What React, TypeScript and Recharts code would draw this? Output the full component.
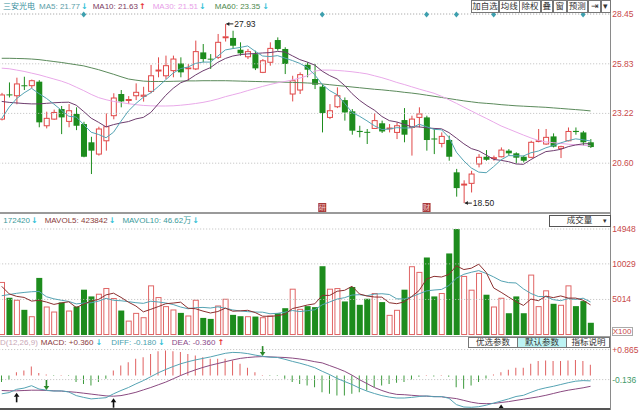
import React from 'react'
import {
  Bar,
  Cell,
  ComposedChart,
  Line,
  ReferenceDot,
  ReferenceLine,
  XAxis,
  YAxis,
} from 'recharts'

// one entry per trading day, first one is the half-cut candle at the left edge
const opens = [
  22.92, 24.22, 24.15, 24.7, 24.68, 24.89, 22.57, 22.92, 23.45, 22.8,
  23.19, 22.66, 21.7, 21.08, 21.78, 23.1, 24.24, 23.9, 24.15, 24.12,
  24.38, 25.45, 25.2, 25.47, 25.85, 25.57, 25.56, 26.43, 26.1, 26.17,
  27.2, 27.19, 26.57, 26.2, 26.34, 25.38, 25.91, 27.08, 26.61, 24.24,
  24.45, 25.78, 25.03, 24.63, 23.01, 23.57, 23.92, 23.33, 22.3, 22.25,
  22.43, 22.7, 22.41, 22.22, 22.87, 22.48, 23.01, 23.01, 21.9, 21.64,
  21.82, 20.12, 19.45, 19.54, 20.56, 20.94, 20.85, 20.94, 21.26, 21.12,
  20.94, 20.91, 21.74, 21.61, 22.01, 21.38, 21.78, 22.3, 22.22, 21.7,
]
const closes = [
  24.19, 24.17, 24.77, 24.65, 24.94, 22.75, 22.96, 23.27, 23.01, 23.36,
  22.57, 20.94, 21.26, 22.4, 22.52, 24.03, 23.85, 23.95, 24.33, 24.18,
  25.2, 25.5, 25.73, 26.08, 25.38, 25.61, 26.47, 26.08, 26.06, 26.96,
  27.25, 26.78, 26.38, 26.47, 25.59, 25.99, 26.64, 26.61, 25.82, 24.94,
  25.26, 25.52, 24.73, 23.24, 23.36, 24.15, 23.27, 22.31, 22.24, 22.2,
  22.84, 22.27, 22.45, 22.57, 22.1, 22.92, 23.19, 21.82, 21.85, 22.01,
  20.94, 19.29, 19.5, 20.03, 20.91, 20.78, 20.89, 21.29, 21.12, 20.89,
  20.73, 21.7, 21.78, 21.96, 21.47, 21.47, 22.27, 22.24, 21.7, 21.45,
]
const highs = [
  24.3, 24.85, 25.1, 25.15, 25.0, 24.97, 23.31, 23.42, 23.61, 23.71,
  23.54, 22.78, 21.99, 22.52, 23.22, 24.28, 24.45, 24.13, 24.8, 24.62,
  25.77, 26.17, 26.26, 26.26, 26.17, 25.82, 27.05, 26.87, 26.34, 27.4,
  27.93, 27.57, 26.96, 26.61, 26.52, 26.08, 26.96, 27.22, 26.7, 25.2,
  25.38, 25.91, 25.82, 24.77, 23.71, 24.59, 24.06, 23.45, 22.57, 22.4,
  23.24, 22.84, 22.66, 22.75, 23.5, 23.1, 23.54, 23.1, 22.4, 22.22,
  22.05, 20.3, 19.7, 20.2, 21.08, 21.29, 21.0, 21.43, 21.34, 21.17,
  21.0, 21.78, 22.4, 22.4, 22.17, 21.52, 22.48, 22.48, 22.3, 21.87,
]
const lows = [
  22.85, 24.06, 23.7, 24.45, 24.54, 22.49, 22.43, 22.88, 22.13, 22.49,
  22.34, 20.91, 20.03, 21.0, 21.26, 22.91, 23.54, 23.71, 23.92, 23.84,
  24.28, 25.12, 25.03, 25.12, 25.12, 24.94, 25.5, 25.91, 25.56, 26.08,
  27.0, 26.61, 26.26, 26.08, 25.5, 25.34, 25.73, 26.52, 25.29, 23.85,
  24.24, 25.12, 24.5, 22.22, 22.92, 23.5, 22.84, 22.1, 21.96, 21.61,
  22.4, 22.19, 22.22, 21.87, 21.7, 21.0, 22.48, 21.26, 21.08, 21.43,
  20.73, 18.84, 18.5, 19.06, 20.38, 20.73, 20.73, 20.91, 21.0, 20.59,
  20.64, 20.87, 21.7, 21.57, 21.43, 20.87, 21.75, 22.1, 21.52, 21.4,
]
// volume in lots of 100
const volumes = [
  7480, 5250, 4970, 3550, 2650, 8050, 4020, 3310, 4590, 3450,
  4020, 6390, 5440, 5820, 6630, 5210, 3450, 2030, 3120, 2510,
  7000, 5350, 4070, 3600, 3120, 2750, 4970, 2410, 2270, 4160,
  5110, 2840, 2650, 2650, 2600, 2510, 2750, 3070, 3780, 6530,
  3690, 4070, 3930, 9700, 6530, 6620, 4730, 6770, 4260, 5110,
  5920, 4640, 2840, 3550, 6390, 9700, 8900, 10930, 5440, 5920,
  11500, 14948, 8330, 6390, 8760, 5680, 4020, 5250, 3070, 5440,
  3070, 8520, 4070, 6300, 4400, 4260, 7000, 4070, 4780, 1724,
]
const ma5 = [
  22.95, 23.55, 24.0, 24.3, 24.54, 24.26, 24.01, 23.71, 23.39, 23.07,
  23.03, 22.63, 22.23, 22.11, 21.94, 22.23, 22.81, 23.35, 23.74, 24.07,
  24.3, 24.63, 24.99, 25.34, 25.58, 25.66, 25.85, 25.92, 25.92, 26.24,
  26.56, 26.63, 26.69, 26.77, 26.49, 26.24, 26.21, 26.26, 26.13, 26.0,
  25.85, 25.63, 25.25, 24.74, 24.42, 24.2, 23.75, 23.27, 23.07, 22.83,
  22.57, 22.37, 22.4, 22.47, 22.45, 22.46, 22.65, 22.52, 22.38, 22.36,
  21.96, 21.18, 20.72, 20.35, 20.13, 20.1, 20.42, 20.78, 21.0, 20.99,
  20.98, 21.15, 21.24, 21.41, 21.53, 21.67, 21.79, 21.88, 21.83, 21.77,
]
const ma10 = [
  23.85, 23.8, 23.77, 23.74, 23.72, 23.72, 23.75, 23.78, 23.8, 23.81,
  23.65, 23.32, 22.97, 22.75, 22.51, 22.63, 22.72, 22.79, 22.93, 23.01,
  23.27, 23.72, 24.17, 24.54, 24.83, 24.98, 25.24, 25.46, 25.63, 25.91,
  26.11, 26.24, 26.31, 26.35, 26.37, 26.4, 26.42, 26.48, 26.45, 26.25,
  26.05, 25.92, 25.76, 25.44, 25.21, 25.03, 24.69, 24.26, 23.91, 23.63,
  23.39, 23.06, 22.84, 22.77, 22.64, 22.52, 22.51, 22.46, 22.43, 22.41,
  22.21, 21.92, 21.62, 21.37, 21.25, 21.03, 20.8, 20.75, 20.68, 20.56,
  20.54, 20.79, 21.01, 21.21, 21.26, 21.33, 21.47, 21.56, 21.62, 21.63,
]
const ma30 = [
  25.6, 25.57, 25.5, 25.43, 25.34, 25.25, 25.14, 25.03, 24.92, 24.78,
  24.6, 24.42, 24.22, 24.05, 23.94, 23.85, 23.79, 23.73, 23.68, 23.64,
  23.62, 23.61, 23.61, 23.62, 23.65, 23.69, 23.74, 23.8, 23.88, 23.98,
  24.1, 24.2, 24.3, 24.42, 24.53, 24.64, 24.74, 24.83, 24.9, 24.98,
  25.08, 25.2, 25.45, 25.5, 25.5, 25.48, 25.45, 25.41, 25.36, 25.3,
  25.2, 25.1, 24.98, 24.85, 24.74, 24.62, 24.5, 24.39, 24.28, 24.12,
  23.94, 23.75, 23.55, 23.35, 23.15, 22.96, 22.76, 22.56, 22.4, 22.24,
  22.08, 21.93, 21.8, 21.72, 21.68, 21.64, 21.6, 21.57, 21.54, 21.51,
]
const ma60 = [
  26.12, 26.12, 26.11, 26.1, 26.08, 26.05, 26.0, 25.95, 25.9, 25.84,
  25.78, 25.72, 25.62, 25.52, 25.4, 25.28, 25.15, 25.03, 24.97, 24.92,
  24.9, 24.9, 24.9, 24.91, 24.92, 24.93, 24.93, 24.94, 24.94, 24.94,
  24.94, 24.93, 24.92, 24.91, 24.9, 24.89, 24.88, 24.87, 24.86, 24.85,
  24.84, 24.82, 24.8, 24.77, 24.73, 24.69, 24.65, 24.61, 24.57, 24.53,
  24.49, 24.46, 24.42, 24.38, 24.33, 24.29, 24.24, 24.18, 24.12, 24.06,
  24.0, 23.94, 23.88, 23.83, 23.78, 23.75, 23.72, 23.68, 23.65, 23.62,
  23.6, 23.58, 23.56, 23.54, 23.51, 23.48, 23.45, 23.42, 23.39, 23.35,
]
const volMa5 = [
  6860, 5800, 5450, 5300, 4780, 4894, 4648, 4316, 4524, 4684,
  3878, 4352, 4778, 5024, 5660, 5898, 5310, 4628, 4088, 3264,
  3622, 4002, 4410, 4506, 4628, 3778, 3702, 3370, 3104, 3312,
  3784, 3358, 3406, 3482, 3170, 2650, 2632, 2716, 2942, 3728,
  3964, 4228, 4400, 5584, 5584, 6170, 6302, 6870, 5782, 5498,
  5358, 5340, 4554, 4412, 4668, 5424, 6276, 7894, 8272, 8178,
  8538, 9748, 9228, 9418, 9986, 8822, 6636, 6020, 5356, 4692,
  4170, 5070, 4834, 5480, 5272, 5510, 5206, 5206, 4902, 4238,
]
const volMa10 = [
  5540, 5700, 5880, 6000, 6100, 6150, 5400, 5100, 4900, 4732,
  4386, 4500, 4547, 4774, 5172, 4888, 4831, 4703, 4556, 4462,
  4760, 4656, 4519, 4297, 3946, 3700, 3852, 3890, 3805, 3970,
  3781, 3530, 3388, 3293, 3241, 3217, 2995, 3061, 3212, 3449,
  3307, 3430, 3558, 4263, 4656, 5067, 5265, 5635, 5683, 5541,
  5764, 5821, 5712, 5097, 5083, 5391, 5808, 6224, 6342, 6423,
  6981, 8012, 8561, 8845, 9082, 8680, 8192, 7624, 7387, 7339,
  6496, 5853, 5427, 5418, 4982, 4840, 5138, 5020, 5191, 4662,
]
const macdHist = [
  -0.22, -0.13, 0.11, 0.17, 0.3, 0.08, 0.03, -0.02, 0.02, -0.02,
  -0.22, -0.28, -0.33, -0.22, -0.11, 0.17, 0.33, 0.44, 0.56, 0.61,
  0.72, 0.81, 0.83, 0.81, 0.78, 0.72, 0.67, 0.61, 0.56, 0.56,
  0.56, 0.5, 0.39, 0.26, 0.11, 0.02, -0.02, -0.02, -0.11, -0.22,
  -0.28, -0.33, -0.39, -0.56, -0.61, -0.67, -0.67, -0.61, -0.56, -0.5,
  -0.39, -0.33, -0.28, -0.24, -0.22, -0.13, -0.04, 0.02, -0.03, 0.02,
  -0.04, -0.39, -0.44, -0.33, -0.22, -0.1, 0.03, 0.11, 0.19, 0.26,
  0.26, 0.39, 0.48, 0.5, 0.48, 0.48, 0.5, 0.52, 0.48, 0.36,
]
const diffLine = [
  -0.61, -0.57, -0.46, -0.42, -0.34, -0.45, -0.49, -0.52, -0.51, -0.55,
  -0.67, -0.73, -0.78, -0.76, -0.74, -0.61, -0.5, -0.4, -0.28, -0.17,
  -0.04, 0.09, 0.2, 0.3, 0.39, 0.46, 0.52, 0.57, 0.62, 0.68,
  0.74, 0.77, 0.76, 0.73, 0.68, 0.64, 0.61, 0.6, 0.54, 0.47,
  0.41, 0.34, 0.26, 0.14, 0.03, -0.1, -0.2, -0.3, -0.42, -0.52,
  -0.6, -0.67, -0.72, -0.75, -0.75, -0.73, -0.7, -0.68, -0.71, -0.7,
  -0.76, -0.97, -1.05, -1.06, -1.04, -0.99, -0.92, -0.85, -0.78, -0.7,
  -0.66, -0.56, -0.47, -0.41, -0.36, -0.3, -0.24, -0.19, -0.17, -0.18,
]
const deaLine = [
  -0.5, -0.51, -0.51, -0.5, -0.49, -0.49, -0.5, -0.51, -0.52, -0.54,
  -0.56, -0.59, -0.62, -0.65, -0.68, -0.69, -0.67, -0.62, -0.56, -0.48,
  -0.4, -0.31, -0.22, -0.11, 0.0, 0.1, 0.19, 0.27, 0.34, 0.4,
  0.46, 0.52, 0.57, 0.6, 0.62, 0.63, 0.62, 0.61, 0.6, 0.58,
  0.55, 0.51, 0.46, 0.42, 0.33, 0.24, 0.14, 0.01, -0.14, -0.27,
  -0.4, -0.5, -0.58, -0.63, -0.64, -0.66, -0.68, -0.69, -0.7, -0.71,
  -0.74, -0.77, -0.83, -0.89, -0.93, -0.94, -0.93, -0.9, -0.87, -0.83,
  -0.79, -0.75, -0.71, -0.66, -0.6, -0.54, -0.49, -0.45, -0.41, -0.36,
]

const priceTicks = [20.6, 23.22, 25.83, 28.45]
const volTicks = [5014, 10029, 14948]
const macdTicks = [-0.136, 0.865]

// positions in the arrays above
const infoMarks = [11, 43, 57, 61, 66, 78]
const notices = [
  { at: 43, text: '研' },
  { at: 57, text: '财' },
]
const goldCross = [2, 15, 67]
const deadCross = [6, 35]

const EMPTY_SLOTS = 2 // blank space before the right axis

const rows = Array.from({ length: opens.length + EMPTY_SLOTS }, (_, k) =>
  k < opens.length
    ? {
        k,
        o: opens[k],
        c: closes[k],
        h: highs[k],
        l: lows[k],
        v: volumes[k],
        ma5: ma5[k],
        ma10: ma10[k],
        ma30: ma30[k],
        ma60: ma60[k],
        vma5: volMa5[k],
        vma10: volMa10[k],
        m: macdHist[k],
        dif: diffLine[k],
        dea: deaLine[k],
      }
    : { k },
)

const hiIdx = highs.indexOf(Math.max(...highs))
const loIdx = lows.indexOf(Math.min(...lows))

const W = 642
const H = 410
const AXIS_W = 30.8
const SHIFT = -1.88

const RED = '#e04848'
const GREEN = '#1d8c1d'
const VOL_RED = '#e06666'
const LABEL_RED = '#c84a4a'
const TEAL = '#55a3b3'
const CYAN = '#2fc0d6'
const UP_RED = '#e83030'
const FONT = '"Liberation Sans", Arial, "Noto Sans CJK SC", sans-serif'

function Candle(props: any) {
  const { x, y, width, height, payload } = props
  if (!payload || payload.h == null) return null
  const top = Math.min(y, y + height)
  const hh = Math.abs(height)
  const span = payload.h - payload.l
  const py = (p: number) => (span > 0 ? top + ((payload.h - p) / span) * hh : top)
  const cx = x + width / 2
  const up = payload.c >= payload.o
  const bTop = py(Math.max(payload.o, payload.c))
  const bBot = py(Math.min(payload.o, payload.c))
  if (up) {
    return (
      <g>
        <line x1={cx} x2={cx} y1={top} y2={bTop} stroke={RED} />
        <line x1={cx} x2={cx} y1={bBot} y2={top + hh} stroke={RED} />
        <rect x={x + 0.5} y={bTop} width={width - 1} height={Math.max(bBot - bTop, 0)} fill="#fff" stroke={RED} />
      </g>
    )
  }
  return (
    <g>
      <line x1={cx} x2={cx} y1={top} y2={top + hh} stroke={GREEN} />
      <rect x={x} y={bTop} width={width} height={Math.max(bBot - bTop, 1)} fill={GREEN} />
    </g>
  )
}

function VolBar(props: any) {
  const { x, y, width, height, payload } = props
  if (!payload || payload.v == null) return null
  if (payload.c >= payload.o) {
    return <rect x={x + 0.5} y={y + 0.5} width={width - 1} height={Math.max(height - 1, 0)} fill="#fff" stroke={VOL_RED} />
  }
  return <rect x={x} y={y} width={width} height={height} fill={GREEN} />
}

const Diamond = (p: any) => (
  <path d={`M${p.cx},${p.cy - 2.5} L${p.cx + 2.5},${p.cy + 0.5} L${p.cx},${p.cy + 3.5} L${p.cx - 2.5},${p.cy + 0.5} Z`} fill="#3d9fae" />
)

const noticeShape = (text: string) => (p: any) => (
  <g>
    <rect x={p.cx - 4} y={p.cy - 10} width={8} height={9.5} fill="#a83a3a" />
    <text x={p.cx} y={p.cy - 5.2} dy="0.35em" textAnchor="middle" fontSize={7} fill="#f4d0d0">
      {text}
    </text>
  </g>
)

const extremeTag = (label: string) => (p: any) => (
  <g>
    <line x1={p.cx + 1} x2={p.cx + 8} y1={p.cy} y2={p.cy} stroke="#222" />
    <path d={`M${p.cx + 1},${p.cy} l3,-2 v4 z`} fill="#222" />
    <text x={p.cx + 9} y={p.cy} dy="0.35em" fontSize={8.5} fill="#222">
      {label}
    </text>
  </g>
)

const UpArrow = (p: any) => (
  <g>
    <path d={`M${p.cx},${p.cy + 2} l-2.8,4 h5.6 z`} fill="#111" />
    <rect x={p.cx - 0.8} y={p.cy + 5.5} width={1.6} height={6} fill="#111" />
  </g>
)

const DownArrow = (p: any) => (
  <g>
    <path d={`M${p.cx},${p.cy - 0.5} l-2.8,-4 h5.6 z`} fill="#2a8a2a" />
    <rect x={p.cx - 0.8} y={p.cy - 10.5} width={1.6} height={6.5} fill="#2a8a2a" />
  </g>
)

function MacdTick(props: any) {
  const { x, y, payload } = props
  const v = payload.value
  return (
    <text x={x} y={y} dy="0.35em" fontSize={8.5} fill={v > 0 ? LABEL_RED : '#3f9a6a'}>
      {v > 0 ? `+${v.toFixed(3)}` : v.toFixed(3)}
    </text>
  )
}

// a header line: items flow left to right, each with its own gap
function HeaderRow({ x, y, items }: any) {
  return (
    <div
      style={{
        position: 'absolute',
        left: x,
        top: y,
        display: 'flex',
        alignItems: 'center',
        fontSize: 8,
        lineHeight: '10px',
        whiteSpace: 'nowrap',
      }}
    >
      {items.map((it: any, i: number) => (
        <span
          key={i}
          style={{
            color: it.c,
            marginLeft: it.gap ?? 0,
            fontFamily: it.arrow ? '"DejaVu Sans", sans-serif' : undefined,
            fontWeight: it.arrow ? 700 : 400,
            fontSize: it.arrow ? 8 : undefined,
          }}
        >
          {it.t}
        </span>
      ))}
    </div>
  )
}

function Btn({ x, y, w, h, label, bg }: any) {
  return (
    <div
      style={{
        position: 'absolute',
        left: x,
        top: y,
        width: w,
        height: h,
        boxSizing: 'border-box',
        border: '1px solid #777',
        background: bg ?? '#fff',
        fontSize: 8.5,
        lineHeight: `${h - 2}px`,
        textAlign: 'center',
        color: '#333',
        whiteSpace: 'nowrap',
        overflow: 'hidden',
      }}
    >
      {label}
    </div>
  )
}

const chartBox: React.CSSProperties = { position: 'absolute', left: SHIFT, top: 0 }
const axisCommon = {
  orientation: 'right' as const,
  width: AXIS_W,
  type: 'number' as const,
  allowDataOverflow: true,
  axisLine: false,
  tickLine: false,
  tickSize: 0,
  tickMargin: 3,
  interval: 0 as const,
}
const lineCommon = { type: 'linear' as const, dot: false, activeDot: false, strokeWidth: 1, isAnimationActive: false }

const down = (gap = 1) => ({ t: '↓', c: CYAN, arrow: true, gap })
const upArrowTxt = (gap = 1) => ({ t: '↑', c: UP_RED, arrow: true, gap })

export default function App() {
  return (
    <div style={{ position: 'absolute', left: 0, top: 0, width: 640, height: 410, overflow: 'hidden', background: '#fff', fontFamily: FONT }}>
      {/* price panel */}
      <div style={chartBox}>
        <ComposedChart width={W} height={H} data={rows} margin={{ top: 14, right: 0, bottom: 197, left: 0 }}>
          <XAxis dataKey="k" hide />
          <YAxis
            {...axisCommon}
            domain={[17.98, 28.45]}
            ticks={priceTicks}
            tick={{ fill: LABEL_RED, fontSize: 8.5 }}
            tickFormatter={(v: number) => v.toFixed(2)}
          />
          {priceTicks.map((t) => (
            <ReferenceLine key={t} y={t} stroke={t === 28.45 ? '#999' : '#bdbdbd'} strokeDasharray="1 2" />
          ))}
          <Bar
            dataKey={(r: any) => (r.h == null ? null : [r.l, r.h])}
            barSize={6}
            shape={(p: any) => <Candle {...p} />}
            isAnimationActive={false}
          />
          <Line dataKey="ma60" stroke="#5b8a5b" {...lineCommon} />
          <Line dataKey="ma30" stroke="#e9a9e9" {...lineCommon} />
          <Line dataKey="ma10" stroke="#6e3d6e" {...lineCommon} />
          <Line dataKey="ma5" stroke={TEAL} {...lineCommon} />
          {infoMarks.map((k) => (
            <ReferenceDot key={k} x={k} y={28.45} shape={Diamond} />
          ))}
          {notices.map((n) => (
            <ReferenceDot key={n.at} x={n.at} y={17.98} shape={noticeShape(n.text)} />
          ))}
          <ReferenceDot x={hiIdx} y={highs[hiIdx]} shape={extremeTag(highs[hiIdx].toFixed(2))} />
          <ReferenceDot x={loIdx} y={lows[loIdx]} shape={extremeTag(lows[loIdx].toFixed(2))} />
        </ComposedChart>
      </div>

      {/* volume panel */}
      <div style={chartBox}>
        <ComposedChart width={W} height={H} data={rows} margin={{ top: 229, right: 0, bottom: 75, left: 0 }}>
          <XAxis dataKey="k" hide />
          <YAxis {...axisCommon} domain={[0, 14948]} ticks={volTicks} tick={{ fill: LABEL_RED, fontSize: 8.5 }} />
          {volTicks.map((t) => (
            <ReferenceLine key={t} y={t} stroke="#bdbdbd" strokeDasharray="1 2" />
          ))}
          <Bar dataKey="v" barSize={6} shape={(p: any) => <VolBar {...p} />} isAnimationActive={false} />
          <Line dataKey="vma10" stroke={TEAL} {...lineCommon} />
          <Line dataKey="vma5" stroke="#8b3030" {...lineCommon} />
        </ComposedChart>
      </div>

      {/* MACD panel */}
      <div style={chartBox}>
        <ComposedChart width={W} height={H} data={rows} margin={{ top: 347, right: 0, bottom: 0, left: 0 }}>
          <XAxis dataKey="k" hide />
          <YAxis {...axisCommon} domain={[-1.15, 0.95]} ticks={macdTicks} tick={(p: any) => <MacdTick {...p} />} />
          {macdTicks.map((t) => (
            <ReferenceLine key={t} y={t} stroke="#bdbdbd" strokeDasharray="1 2" />
          ))}
          <Bar dataKey="m" barSize={1} isAnimationActive={false}>
            {rows.map((r: any) => (
              <Cell key={r.k} fill={(r.m ?? 0) >= 0 ? '#e06060' : '#3c9a3c'} />
            ))}
          </Bar>
          <Line dataKey="dea" stroke="#8a4a80" {...lineCommon} />
          <Line dataKey="dif" stroke={TEAL} {...lineCommon} />
          {goldCross.map((k) => (
            <ReferenceDot key={k} x={k} y={deaLine[k]} shape={UpArrow} />
          ))}
          {deadCross.map((k) => (
            <ReferenceDot key={k} x={k} y={deaLine[k]} shape={DownArrow} />
          ))}
        </ComposedChart>
      </div>

      {/* frame lines */}
      <div style={{ position: 'absolute', left: 610, top: 0, width: 1, height: 410, background: '#8a8a8a' }} />
      <div style={{ position: 'absolute', left: 0, top: 211.5, width: 610, height: 2, background: '#9a9a9a' }} />
      <div style={{ position: 'absolute', left: 0, top: 335.5, width: 610, height: 1, background: '#a0a0a0' }} />
      <div style={{ position: 'absolute', left: 0, top: 408, width: 610, height: 1.5, background: '#555' }} />

      {/* price header */}
      <HeaderRow
        x={3}
        y={1.5}
        items={[
          { t: '三安光电', c: '#3a8fa0' },
          { t: 'MA5: 21.77', c: '#5a9ea8', gap: 4 },
          down(),
          { t: 'MA10: 21.63', c: '#7b3b63', gap: 5 },
          upArrowTxt(),
          { t: 'MA30: 21.51', c: '#e89ee8', gap: 7 },
          down(),
          { t: 'MA60: 23.35', c: '#4d8a4d', gap: 9 },
          down(2),
        ]}
      />

      <Btn x={470.7} y={0} w={28.5} h={13.3} label="加自选" />
      <Btn x={499} y={0} w={20.5} h={13.3} label="均线" />
      <Btn x={519.3} y={0} w={21.5} h={13.3} label="除权" />
      <Btn x={540.5} y={0} w={12.5} h={13.3} label="叠" />
      <Btn x={552.8} y={0} w={14} h={13.3} label="窗" />
      <Btn x={566.5} y={0} w={21.5} h={13.3} label="预测" />
      <Btn x={587.8} y={0} w={13.5} h={13.3} label="⇥" />
      <Btn x={601.2} y={0} w={9.5} h={13.3} label="▾" />

      {/* volume header */}
      <HeaderRow
        x={3.3}
        y={215.7}
        items={[
          { t: '172420', c: '#3a9a9a' },
          down(),
          { t: 'MAVOL5: 423842', c: '#8b3b3b', gap: 7 },
          down(),
          { t: 'MAVOL10: 46.62万', c: '#3a9a9a', gap: 7 },
          down(),
        ]}
      />
      <div
        style={{
          position: 'absolute',
          left: 548.7,
          top: 215,
          width: 62,
          height: 11.7,
          boxSizing: 'border-box',
          border: '1px solid #555',
          background: '#fff',
          fontSize: 8.5,
          lineHeight: '9.7px',
          color: '#333',
        }}
      >
        <span style={{ position: 'absolute', left: 17 }}>成交量</span>
        <span style={{ position: 'absolute', left: 53, fontSize: 7 }}>▾</span>
      </div>
      <div
        style={{
          position: 'absolute',
          left: 611.5,
          top: 326.5,
          width: 21,
          height: 9,
          boxSizing: 'border-box',
          border: '1px solid #aaa',
          fontSize: 8,
          lineHeight: '7px',
          color: LABEL_RED,
          textAlign: 'center',
        }}
      >
        X100
      </div>

      {/* MACD header */}
      <HeaderRow
        x={0}
        y={338.3}
        items={[
          { t: 'D(12,26,9)', c: '#c9a8b8' },
          { t: 'MACD: +0.360', c: '#8b3b3b', gap: 3 },
          down(2),
          { t: 'DIFF: -0.180', c: '#4a9fae', gap: 9 },
          down(2),
          { t: 'DEA: -0.360', c: '#8a4a8a', gap: 7 },
          upArrowTxt(2),
        ]}
      />
      <Btn x={468.3} y={336.7} w={49.4} h={11.8} label="优选参数" />
      <Btn x={517.3} y={336.7} w={49.4} h={11.8} label="默认参数" bg="#bdf3f3" />
      <Btn x={566.3} y={336.7} w={44.2} h={11.8} label="指标说明" />
    </div>
  )
}
